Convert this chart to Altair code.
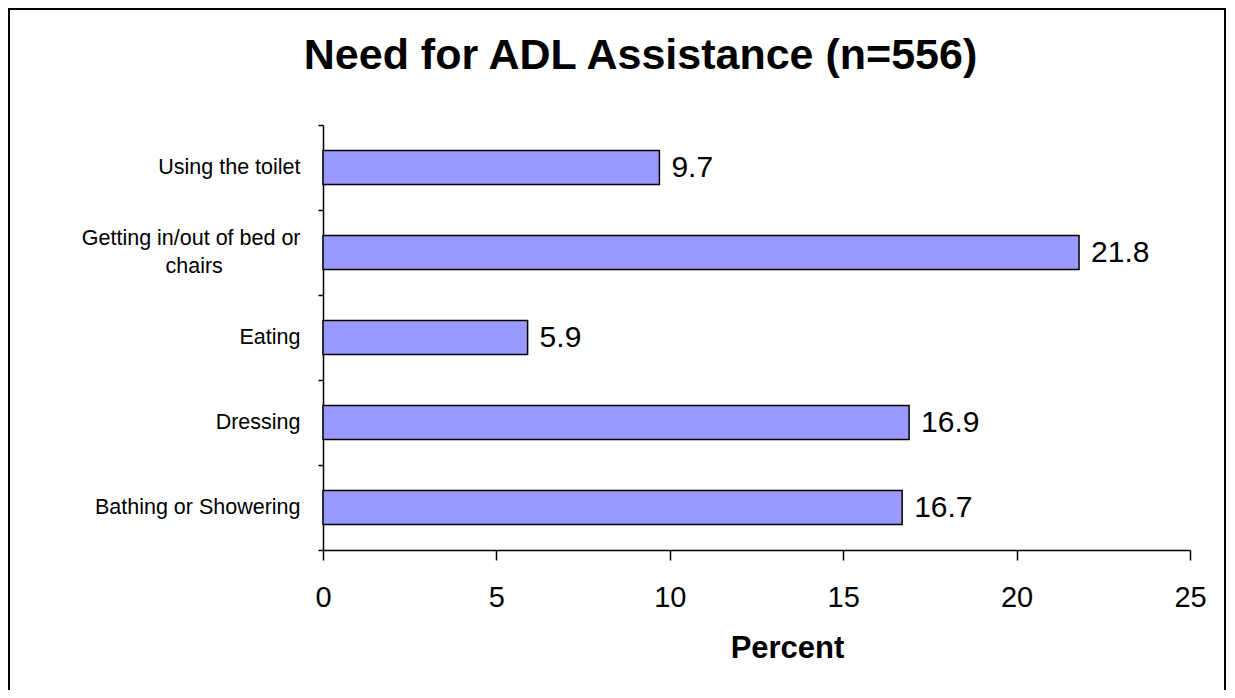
import altair as alt
import pandas as pd

categories = ["Using the toilet", "Getting in/out of bed or chairs", "Eating", "Dressing", "Bathing or Showering"]
values = [9.7, 21.8, 5.9, 16.9, 16.7]
x_ticks = [0, 5, 10, 15, 20, 25]

df = pd.DataFrame({"cat": categories, "val": values})

FONT = "Liberation Sans"
PAD = "\u00a0" * 13 + "\u200b"
WRAPPED = "Getting in/out of bed or chairs"
label_expr = ("datum.label == '" + WRAPPED + "' ? "
              "['Getting in/out of bed or', 'chairs" + PAD + "'] : datum.label")

y_enc = alt.Y("cat:N", sort=categories, title=None,
              scale=alt.Scale(paddingInner=0, paddingOuter=0),
              axis=alt.Axis(tickBand="extent", labelFontSize=21.5, labelFont=FONT,
                            labelColor="black", labelPadding=18, tickSize=5,
                            tickColor="black", tickWidth=1.5, domainColor="black",
                            domainWidth=1.5, labelLimit=400, labelLineHeight=28,
                            labelOffset={"condition": {"test": "datum.label == '" + WRAPPED + "'",
                                                       "value": -14}, "value": 0},
                            labelExpr=label_expr))

x_enc = alt.X("val:Q", title="Percent",
              scale=alt.Scale(domain=[0, 25], nice=False),
              axis=alt.Axis(values=x_ticks, grid=False, tickSize=10, tickColor="black",
                            tickWidth=1.5, domainColor="black", domainWidth=1.5,
                            labelFontSize=29, labelFont=FONT, labelColor="black",
                            labelBaseline="alphabetic", labelPadding=46, labelFlush=False,
                            titleFontSize=31, titleFont=FONT, titleFontWeight="bold",
                            titleColor="black", titleBaseline="alphabetic",
                            titleY=107, titleX=464, titleAlign="center", titleAnchor="start"))

frame = alt.Chart(alt.Data(values=[{"a": 1}])).mark_rect(
    filled=False, stroke="black", strokeWidth=2
).encode(x=alt.value(-314), x2=alt.value(902), y=alt.value(-116), y2=alt.value(700))

bars = alt.Chart(df).mark_bar(
    color="#9999FF", stroke="black", strokeWidth=1.5, height={"band": 0.4}
).encode(x=x_enc, y=y_enc)

text = alt.Chart(df).mark_text(
    align="left", baseline="middle", dx=12, fontSize=30, font=FONT, color="black"
).encode(x="val:Q", y=alt.Y("cat:N", sort=categories), text=alt.Text("val:Q", format=".1f"))

chart = alt.layer(frame, bars, text).properties(
    width=867, height=425,
    padding={"left": 315, "top": 117, "right": 36, "bottom": 140},
    autosize=alt.AutoSizeParams(type="none"),
    background="white",
    title=alt.TitleParams("Need for ADL Assistance (n=556)", fontSize=43, fontWeight="bold",
                          font=FONT, color="black", anchor="middle", dx=-116,
                          baseline="alphabetic", offset=-104),
).configure_view(stroke=None, strokeWidth=0)

chart.save("out.html", embed_options={"renderer": "svg", "actions": False})
